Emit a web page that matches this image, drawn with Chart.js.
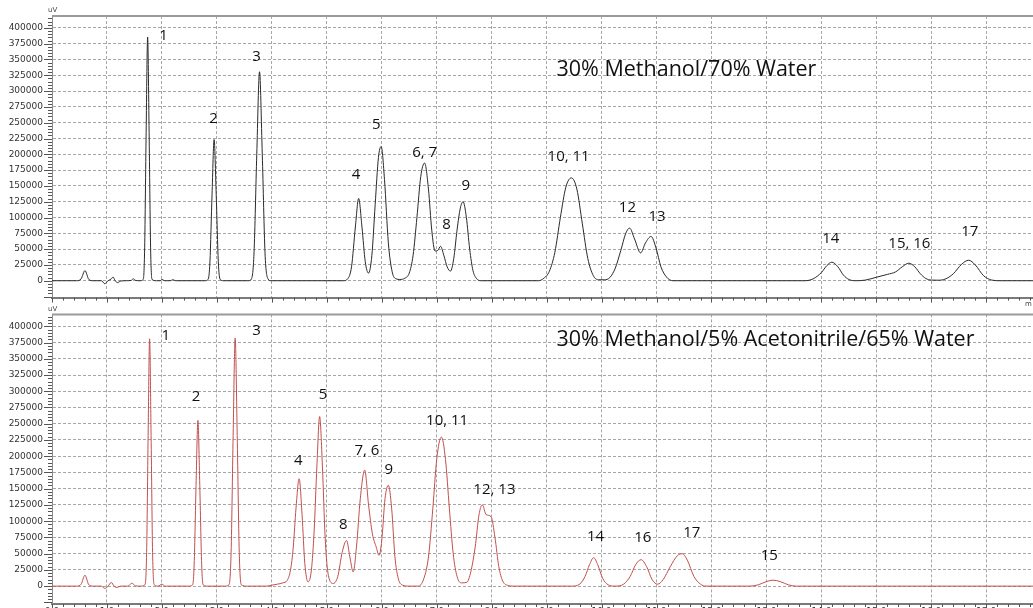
<!DOCTYPE html>
<html>
<head>
<meta charset="utf-8">
<script src="https://cdn.jsdelivr.net/npm/chart.js@4.4.0/dist/chart.umd.min.js"></script>
<style>
html, body { margin:0; padding:0; background:#fff; overflow:hidden; width:1033px; height:608px; }
canvas { position:absolute; left:0; }
#topChart { top:0; }
#botChart { top:300px; }
</style>
</head>
<body>
<canvas id="topChart" width="1033" height="312"></canvas>
<canvas id="botChart" width="1033" height="330"></canvas>
<script>
// retention time (min), signal (uV)
const topTrace = [
  [0,0],[0.45,0],[0.53,3000],[0.6,16000],[0.67,2000],[0.75,0],[0.9,0],[0.96,-4700],[1.02,0],[1.08,3000],[1.11,5800],[1.15,0],[1.19,-3000],[1.25,-500],[1.35,0],[1.44,500],[1.48,3000],[1.52,500],[1.6,0],
  [1.66,2000],[1.686,52000],[1.713,235000],[1.74,385500],[1.767,235000],[1.794,52000],[1.82,2000],[1.9,0],
  [1.97,0],[2.0,2000],[2.05,0],[2.15,0],[2.2,1500],[2.25,0],
  [2.78,0],[2.84,2000],[2.874,30000],[2.912,136000],[2.95,223300],[2.988,136000],[3.026,30000],[3.06,2000],[3.12,0],
  [3.58,0],[3.63,3000],[3.676,44000],[3.726,200000],[3.776,330600],[3.826,200000],[3.876,44000],[3.93,3000],[3.98,0],
  [5.3,0],[5.38,3000],[5.45,22000],[5.52,85000],[5.58,130200],[5.64,85000],[5.70,30000],[5.76,12000],[5.82,40000],[5.88,120000],[5.94,195000],[5.99,212300],[6.05,160000],[6.12,60000],[6.19,14000],[6.26,3000],[6.33,2000],[6.42,4000],
  [6.5,12000],[6.57,40000],[6.64,100000],[6.71,165000],[6.78,186200],[6.85,145000],[6.91,80000],[6.97,47000],[7.02,48000],[7.07,54400],[7.13,40000],[7.19,22000],[7.25,15200],[7.31,35000],[7.37,80000],[7.43,115000],[7.48,125000],[7.54,100000],[7.6,50000],[7.66,16000],[7.72,4000],[7.8,0],
  [8.85,0],[8.95,4000],[9.05,15000],[9.15,45000],[9.25,100000],[9.35,148000],[9.45,162700],[9.55,145000],[9.65,90000],[9.75,35000],[9.85,8000],[9.95,1500],[10.05,1500],
  [10.15,5000],[10.25,20000],[10.35,48000],[10.44,75000],[10.51,83200],[10.6,66000],[10.71,44000],[10.8,60000],[10.9,70100],[10.99,52000],[11.08,22000],[11.18,6000],[11.3,0],
  [13.7,0],[13.85,3000],[14.0,13000],[14.1,24000],[14.19,29300],[14.3,22000],[14.4,9000],[14.5,2000],[14.62,0],
  [14.8,1000],[15.0,5500],[15.2,10000],[15.35,14000],[15.47,22000],[15.59,27700],[15.7,22000],[15.8,11000],[15.9,3500],[16.0,1000],[16.12,800],
  [16.25,2500],[16.4,11000],[16.55,26000],[16.68,32400],[16.8,25000],[16.95,8000],[17.1,1000],[17.25,0],[17.85,0]
];
const botTrace = [
  [0,0],[0.45,0],[0.53,3000],[0.6,16800],[0.67,2000],[0.75,0],[0.9,0],[0.96,-3500],[1.02,0],[1.08,5600],[1.13,0],[1.18,-2000],[1.25,0],[1.38,0],[1.45,4500],[1.52,500],[1.6,0],
  [1.69,2000],[1.722,52000],[1.749,232000],[1.776,380700],[1.803,232000],[1.83,52000],[1.86,2000],[1.93,0],[2.0,3000],[2.06,0],
  [2.48,0],[2.56,2000],[2.587,34000],[2.621,155000],[2.655,255000],[2.689,155000],[2.723,34000],[2.75,2000],[2.84,0],
  [3.14,0],[3.22,2000],[3.259,52000],[3.296,232000],[3.333,381800],[3.37,232000],[3.407,52000],[3.445,2000],[3.55,0],
  [3.9,0],[4.0,1500],[4.1,3000],[4.2,5000],[4.28,9000],[4.34,25000],[4.39,60000],[4.44,120000],[4.497,165400],[4.55,110000],[4.6,35000],[4.66,6600],[4.72,25000],[4.77,85000],[4.82,185000],[4.87,261100],[4.92,185000],[4.97,75000],[5.03,16000],[5.12,4100],[5.2,15000],[5.28,52000],[5.36,70200],[5.42,45000],[5.48,21900],[5.54,60000],[5.61,135000],[5.69,178600],[5.76,125000],[5.83,80400],[5.9,60000],[5.95,47300],[6.0,70000],[6.06,135000],[6.12,155300],[6.18,120000],[6.24,45000],[6.3,12000],[6.38,1500],[6.5,0],
  [6.65,0],[6.75,8000],[6.85,45000],[6.93,120000],[7.0,195000],[7.085,229500],[7.16,195000],[7.23,120000],[7.3,50000],[7.37,15000],[7.45,5000],[7.55,6000],[7.62,22000],[7.7,60000],[7.77,110000],[7.83,125200],[7.9,110000],[7.99,106900],[8.06,75000],[8.13,30000],[8.2,8000],[8.3,1000],[8.4,0],
  [9.45,0],[9.6,3000],[9.7,15000],[9.78,33000],[9.855,43800],[9.93,33000],[10.02,12000],[10.12,2000],[10.24,0],
  [10.4,3000],[10.52,15000],[10.62,33000],[10.72,40700],[10.82,30000],[10.92,10000],[11.02,3000],
  [11.12,10000],[11.25,30000],[11.38,47000],[11.47,49900],[11.56,40000],[11.68,15000],[11.8,3000],[11.9,0],
  [12.69,0],[12.85,2000],[13.0,7000],[13.12,9200],[13.25,7000],[13.4,2000],[13.54,0],[17.85,0]
];

const minuteTicks = [0,1,2,3,4,5,6,7,8,9,10,11,12,13,14,15,16,17];
const signalTicks = [0,25000,50000,75000,100000,125000,150000,175000,200000,225000,250000,275000,300000,325000,350000,375000,400000];

// peak labels: name, time, level
const topPeakNames = ['1','2','3','4','5','6, 7','8','9','10, 11','12','13','14','15, 16','17'];
const topPeakTime  = [2.03,2.94,3.72,5.53,5.9,6.78,7.18,7.53,9.4,10.47,11.01,14.17,15.6,16.7];
const topPeakLevel = [388000,257000,355000,167000,246000,202000,88000,150000,196000,116000,101000,66000,59000,78000];
const botPeakNames = ['1','2','3','4','5','8','7, 6','9','10, 11','12, 13','14','16','17','15'];
const botPeakTime  = [2.07,2.62,3.72,4.48,4.93,5.3,5.73,6.13,7.19,8.05,9.89,10.75,11.64,13.05];
const botPeakLevel = [384800,291700,392500,193400,294400,94700,208700,178600,254500,148200,75400,74500,82600,46300];

const topTitle = '30% Methanol/70% Water';
const botTitle = '30% Methanol/5% Acetonitrile/65% Water';

const decor = {
  id: 'decor',
  afterDraw(chart, args, o) {
    const {ctx, chartArea: a} = chart;
    const x = chart.scales.x, y = chart.scales.y;
    ctx.save();
    // frame top
    ctx.strokeStyle = '#9a9a9a';
    ctx.lineWidth = 2;
    ctx.beginPath(); ctx.moveTo(a.left, a.top); ctx.lineTo(a.right, a.top); ctx.stroke();
    // y minor/major ticks
    ctx.strokeStyle = '#555';
    ctx.lineWidth = 1;
    ctx.beginPath();
    for (let k = Math.ceil(y.min / 5000); k * 5000 <= y.max; k++) {
      const py = Math.round(y.getPixelForValue(k * 5000)) + 0.5;
      const len = k % 5 === 0 ? 8 : 4;
      ctx.moveTo(a.left - len, py); ctx.lineTo(a.left, py);
    }
    // x minor/major ticks
    for (let i = 0; i / 5 <= x.max; i++) {
      const px = Math.round(x.getPixelForValue(i / 5)) + 0.5;
      const len = i % 5 === 0 ? 5 : 3;
      ctx.moveTo(px, a.bottom); ctx.lineTo(px, a.bottom + len);
    }
    ctx.stroke();
    // units
    ctx.fillStyle = '#444';
    ctx.font = '7px "DejaVu Sans"';
    ctx.textAlign = 'left';
    ctx.textBaseline = 'bottom';
    ctx.fillText('uV', a.left - 4, a.top - 2);
    ctx.textBaseline = 'top';
    ctx.fillText('m', a.right - 8, a.bottom + 3);
    // peak labels
    ctx.fillStyle = '#111';
    ctx.font = '15px "Open Sans"';
    ctx.textAlign = 'center';
    ctx.textBaseline = 'middle';
    o.names.forEach((n, i) => {
      ctx.fillText(n, x.getPixelForValue(o.times[i]), y.getPixelForValue(o.levels[i]));
    });
    ctx.font = '21.5px "Open Sans"';
    ctx.textAlign = 'left';
    ctx.fillText(o.title, x.getPixelForValue(9.18), y.getPixelForValue(o.titleLevel));
    ctx.restore();
  }
};

const makeChart = (id, trace, color, opts) => {
  return new Chart(document.getElementById(id), {
    type: 'line',
    data: {
      datasets: [{
        data: trace.map(p => ({x: p[0], y: p[1]})),
        borderColor: color,
        borderWidth: 1,
        pointRadius: 0,
        fill: false,
        cubicInterpolationMode: 'monotone'
      }]
    },
    options: {
      responsive: false,
      animation: false,
      layout: { padding: { top: opts.padTop, left: 0, right: 0, bottom: 0 } },
      plugins: {
        legend: { display: false },
        tooltip: { enabled: false },
        decor: opts.decor
      },
      scales: {
        x: {
          type: 'linear', min: 0, max: 17.85,
          afterBuildTicks: s => { s.ticks = minuteTicks.map(v => ({value: v})); },
          afterFit: s => { s.height = opts.xHeight; },
          grid: { color: '#a6a6a6', lineWidth: 1, drawTicks: false },
          border: { display: true, color: '#7a7a7a', width: 2, dash: [3, 2] },
          ticks: {
            display: opts.showX, padding: 2, maxRotation: 0, autoSkip: false,
            color: '#333', font: { family: 'DejaVu Sans', size: 9 },
            callback: v => v.toFixed(1)
          }
        },
        y: {
          type: 'linear', min: opts.yMin, max: opts.yMax,
          afterBuildTicks: s => { s.ticks = signalTicks.map(v => ({value: v})); },
          afterFit: s => { s.width = 52; },
          grid: { color: '#a6a6a6', lineWidth: 1, drawTicks: false },
          border: { display: true, color: '#8a8a8a', width: 1, dash: [3, 2] },
          ticks: {
            padding: 9, color: '#333', font: { family: 'DejaVu Sans', size: 9 },
            callback: v => String(v)
          }
        }
      }
    },
    plugins: [decor]
  });
};

makeChart('topChart', topTrace, '#2a2a2a', {
  padTop: 16, xHeight: 12, showX: false, yMin: -26700, yMax: 418800,
  decor: { names: topPeakNames, times: topPeakTime, levels: topPeakLevel, title: topTitle, titleLevel: 334000 }
});
makeChart('botChart', botTrace, '#c0504d', {
  padTop: 12, xHeight: 26, showX: true, yMin: -27500, yMax: 418300,
  decor: { names: botPeakNames, times: botPeakTime, levels: botPeakLevel, title: botTitle, titleLevel: 378700 }
});
</script>
</body>
</html>
